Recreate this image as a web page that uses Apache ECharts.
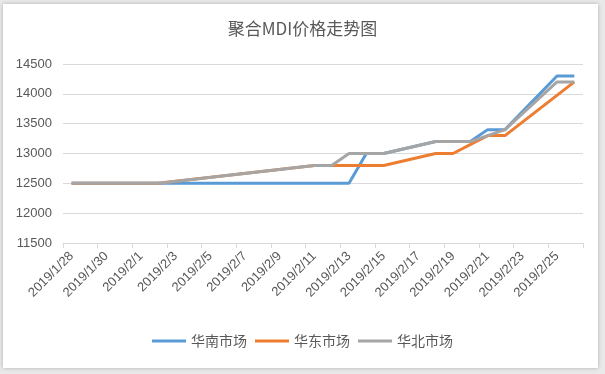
<!DOCTYPE html>
<html>
<head>
<meta charset="utf-8">
<script src="https://cdn.jsdelivr.net/npm/echarts@6/dist/echarts.min.js"></script>
<style>
  html, body { margin: 0; padding: 0; width: 605px; height: 374px; background: #e9e9e9; overflow: hidden; }
  #card { position: absolute; left: 3px; top: 4px; width: 595px; height: 364px; background: #fff; box-shadow: 0 0 4px rgba(0,0,0,0.25); }
  #chart { position: absolute; left: 0; top: 0; width: 605px; height: 374px; }
</style>
</head>
<body>
<div id="card"></div>
<div id="chart"></div>
<script>
var title = '聚合MDI价格走势图';
var categories = [
  '2019/1/28','2019/1/29','2019/1/30','2019/1/31','2019/2/1','2019/2/2','2019/2/3','2019/2/4','2019/2/5','2019/2/6',
  '2019/2/7','2019/2/8','2019/2/9','2019/2/10','2019/2/11','2019/2/12','2019/2/13','2019/2/14','2019/2/15','2019/2/16',
  '2019/2/17','2019/2/18','2019/2/19','2019/2/20','2019/2/21','2019/2/22','2019/2/23','2019/2/24','2019/2/25','2019/2/26'
];
var seriesNames = ['华南市场', '华东市场', '华北市场'];
// null = no reading on that day (line joins across the gap)
var south = [12500,12500,12500,12500,12500,12500,12500,12500,12500,12500,
             12500,12500,12500,12500,12500,12500,12500,13000,13000,null,
             null,13200,13200,13200,13400,13400,null,null,14300,14300];
var east  = [12500,12500,12500,12500,12500,12500,null,null,null,null,
             null,null,null,null,12800,12800,12800,12800,12800,null,
             null,13000,13000,null,13300,13300,null,null,null,14200];
var north = [12500,12500,12500,12500,12500,12500,null,null,null,null,
             null,null,null,null,12800,12800,13000,13000,13000,null,
             null,13200,13200,13200,null,13400,null,null,14200,14200];
var colors = ['#5B9BD5', '#ED7D31', '#A5A5A5'];
var yMin = 11500, yMax = 14500, yStep = 500;

var chart = echarts.init(document.getElementById('chart'), null, { renderer: 'canvas' });
var values = [south, east, north];
chart.setOption({
  animation: false,
  backgroundColor: 'transparent',
  color: colors,
  title: {
    text: title, left: 'center', top: 15,
    textStyle: { fontFamily: 'Noto Sans CJK SC', fontSize: 17, fontWeight: 'normal', color: '#595959' }
  },
  legend: {
    bottom: 21, left: 'center',
    icon: 'rect', itemWidth: 34, itemHeight: 3, itemGap: 8,
    textStyle: { fontFamily: 'Noto Sans CJK SC', fontSize: 14, color: '#595959' },
    data: seriesNames
  },
  grid: { left: 63, right: 22, top: 64, bottom: 131 },
  xAxis: {
    type: 'category', data: categories, boundaryGap: true,
    axisLine: { lineStyle: { color: '#d9d9d9', width: 1 } },
    axisTick: { show: true, interval: 1, length: 5, lineStyle: { color: '#d9d9d9' } },
    axisLabel: { interval: 1, rotate: 45, margin: 11, fontSize: 13, color: '#595959', fontFamily: 'Liberation Sans' }
  },
  yAxis: {
    type: 'value', min: yMin, max: yMax, interval: yStep,
    axisLine: { show: false }, axisTick: { show: false },
    splitLine: { lineStyle: { color: '#d9d9d9', width: 1 } },
    axisLabel: { fontSize: 13, color: '#595959', margin: 11, fontFamily: 'Liberation Sans',
      formatter: function (v) { return String(v); } }
  },
  series: seriesNames.map(function (n, k) {
    return {
      name: n, type: 'line', data: values[k], connectNulls: true,
      symbol: 'none', lineStyle: { width: 3, color: colors[k] }, itemStyle: { color: colors[k] }
    };
  })
});
</script>
</body>
</html>
